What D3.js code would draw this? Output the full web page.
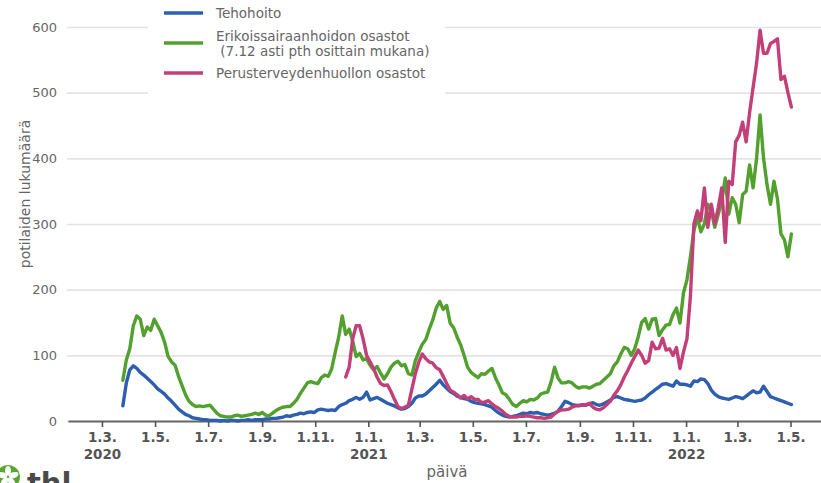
<!DOCTYPE html>
<html><head><meta charset="utf-8">
<script src="https://cdn.jsdelivr.net/npm/d3@7"></script>
<style>body{margin:0;background:#fff;} svg{display:block;font-family:"DejaVu Sans",sans-serif;}</style>
</head><body><svg id="chart" width="821" height="483"></svg>
<script>
// ---- data (one every 4 days) ----
const startDate = "2020-03-25";
const stepDays = 4;
const tehohoito = [
 23,58,78,84,80,74,70,65,60,55,
 49,45,41,35,30,24,18,14,10,8,
 5,4,3,2,2,1,1,1,0,1,
 0,1,1,0,1,1,2,1,2,2,
 2,3,3,4,4,5,6,8,7,9,
 10,12,11,13,14,13,17,18,17,16,
 17,16,22,25,27,31,33,36,33,36,
 44,32,34,36,33,30,27,25,23,20,
 18,19,22,27,35,38,38,41,46,51,
 56,62,55,50,45,42,38,36,34,33,
 30,28,27,26,25,23,21,16,12,9,
 7,6,7,8,10,12,11,13,12,13,
 11,10,9,10,12,15,22,30,28,25,
 24,23,25,24,26,28,25,24,26,29,
 32,36,37,35,33,32,31,30,31,32,
 35,40,44,48,52,56,57,55,53,61,
 56,56,55,53,61,60,64,63,57,47,
 41,37,35,34,33,35,37,36,34,38,
 42,46,43,44,53,45,37,35,33,31,
 29,27,25
];
const erikoissairaanhoito = [
 62,93,110,145,160,155,130,143,138,155,
 145,135,120,98,90,85,68,54,40,30,
 25,22,23,22,23,24,18,12,8,7,
 6,6,8,9,7,8,9,10,12,10,
 13,9,8,12,16,19,21,22,22,27,
 33,42,50,58,60,58,57,66,70,68,
 80,105,128,160,132,140,122,98,103,93,
 95,85,78,83,73,64,72,82,88,91,
 84,86,72,70,92,105,117,124,140,154,
 172,182,170,176,149,142,128,116,100,82,
 74,70,66,72,71,76,80,66,55,43,
 40,33,25,22,27,31,29,33,32,35,
 41,43,44,60,82,65,58,58,60,58,
 53,50,52,52,50,53,56,57,62,67,
 72,84,90,102,112,110,100,110,128,150,
 156,140,155,156,130,139,146,147,162,172,
 149,195,215,250,290,310,288,300,330,320,
 295,315,335,370,315,340,330,302,345,350,
 390,355,400,466,400,360,330,365,338,285,
 276,250,285
];
const perusStartDate = "2020-12-06";
const perusterveydenhuolto = [
 67,82,125,145,145,125,100,90,80,67,
 57,54,55,45,33,22,19,21,24,48,
 72,90,102,95,90,88,81,78,68,57,
 47,44,40,35,39,34,37,33,33,28,
 29,31,26,22,19,15,10,7,6,6,
 7,7,8,7,6,5,5,4,5,6,
 11,15,17,17,18,21,23,24,24,25,
 27,21,18,17,20,25,30,39,46,55,
 67,77,88,98,108,100,88,92,120,110,
 111,126,108,110,100,112,80,105,125,190,
 300,320,305,355,295,330,300,325,355,272,
 365,360,425,435,455,425,470,508,545,595,
 560,560,575,578,582,520,525,500,478
];
const seriesNames = ["Tehohoito", "Erikoissairaanhoidon osastot", "Perusterveydenhuollon osastot"];
const seriesColors = ["#2d5fae", "#52a02e", "#c23f78"];
const yTicks = [0, 100, 200, 300, 400, 500, 600];
const tickDates = ["2020-03-01","2020-05-01","2020-07-01","2020-09-01","2020-11-01","2021-01-01",
  "2021-03-01","2021-05-01","2021-07-01","2021-09-01","2021-11-01","2022-01-01","2022-03-01","2022-05-01"];
const tickLabels = ["1.3.","1.5.","1.7.","1.9.","1.11.","1.1.","1.3.","1.5.","1.7.","1.9.","1.11.","1.1.","1.3.","1.5."];
const yearLabels = ["2020","","","","","2021","","","","","","2022","",""];

// ---- chart ----
const parse = d3.utcParse("%Y-%m-%d");
const svg = d3.select("#chart");
const x = d3.scaleUtc().domain([parse("2020-01-22"), parse("2022-06-05")]).range([68, 821]);
const y = d3.scaleLinear().domain([0, 600]).range([421, 27]);

function toPoints(start, vals) {
  const s = parse(start);
  return vals.map((v, i) => ({date: d3.utcDay.offset(s, i * stepDays), v}));
}
const series = [
  toPoints(startDate, tehohoito),
  toPoints(startDate, erikoissairaanhoito),
  toPoints(perusStartDate, perusterveydenhuolto)
];

// y axis + grid
const gy = svg.append("g").attr("transform", "translate(67,0)")
  .call(d3.axisLeft(y).tickValues(yTicks).tickSize(-(821 - 67)).tickPadding(10));
gy.select(".domain").remove();
gy.selectAll(".tick line").attr("stroke", "#e4e4e4").attr("stroke-width", 1.6);
gy.selectAll(".tick text").attr("fill", "#666").attr("font-size", 13)
  .attr("font-family", "DejaVu Sans, sans-serif");

// x axis
const gx = svg.append("g").attr("transform", "translate(0,421)")
  .call(d3.axisBottom(x).tickValues(tickDates.map(parse)).tickSize(6).tickSizeOuter(0).tickPadding(5)
    .tickFormat((d, i) => tickLabels[i]));
gx.select(".domain").attr("stroke", "#666").attr("stroke-width", 2.2);
gx.selectAll(".tick line").attr("stroke", "#555").attr("stroke-width", 1.6);
gx.selectAll(".tick text").attr("fill", "#555").attr("font-size", 13.5).attr("font-weight", "bold")
  .attr("font-family", "DejaVu Sans, sans-serif");
gx.selectAll(".tick").append("text")
  .attr("y", 38).attr("text-anchor", "middle").attr("fill", "#555")
  .attr("font-size", 13.5).attr("font-weight", "bold").attr("font-family", "DejaVu Sans, sans-serif")
  .text((d, i) => yearLabels[i]);

// axis titles
svg.append("text").attr("x", 447).attr("y", 477).attr("text-anchor", "middle")
  .attr("fill", "#666").attr("font-size", 15).text("päivä");
svg.append("text").attr("transform", "translate(30,194) rotate(-90)").attr("text-anchor", "middle")
  .attr("fill", "#666").attr("font-size", 14).text("potilaiden lukumäärä");

// lines
const line = d3.line().x(d => x(d.date)).y(d => y(d.v));
series.forEach((s, k) => {
  svg.append("path").datum(s).attr("d", line).attr("fill", "none")
    .attr("stroke", seriesColors[k]).attr("stroke-width", 3.4)
    .attr("stroke-linejoin", "round").attr("stroke-linecap", "round");
});

// legend
const lg = svg.append("g");
lg.append("rect").attr("x", 148).attr("y", 0).attr("width", 297).attr("height", 97).attr("fill", "#fff");
const legendY = [13, 43, 73];
seriesNames.forEach((n, k) => {
  lg.append("line").attr("x1", 164).attr("x2", 203).attr("y1", legendY[k]).attr("y2", legendY[k])
    .attr("stroke", seriesColors[k]).attr("stroke-width", 3.4);
});
const lt = (txt, yy) => lg.append("text").attr("x", 216).attr("y", yy).attr("fill", "#666")
  .attr("font-size", 13.5).attr("xml:space", "preserve").text(txt);
lt("Tehohoito", 18);
lt("Erikoissairaanhoidon osastot", 41);
lt(" (7.12 asti pth osittain mukana)", 56);
lt("Perusterveydenhuollon osastot", 78);

// logo
const logo = svg.append("g");
logo.append("circle").attr("cx", 8).attr("cy", 477).attr("r", 12).attr("fill", "#5aa532");
[0, 72, 144, 216, 288].forEach(a => {
  logo.append("ellipse").attr("cx", 8).attr("cy", 471).attr("rx", 3).attr("ry", 5)
    .attr("fill", "#fff").attr("transform", `rotate(${a},8,477)`);
});
logo.append("text").attr("x", 27).attr("y", 493).attr("fill", "#4a4a4a")
  .attr("font-size", 29).attr("font-weight", "bold").text("thl");
</script></body></html>
